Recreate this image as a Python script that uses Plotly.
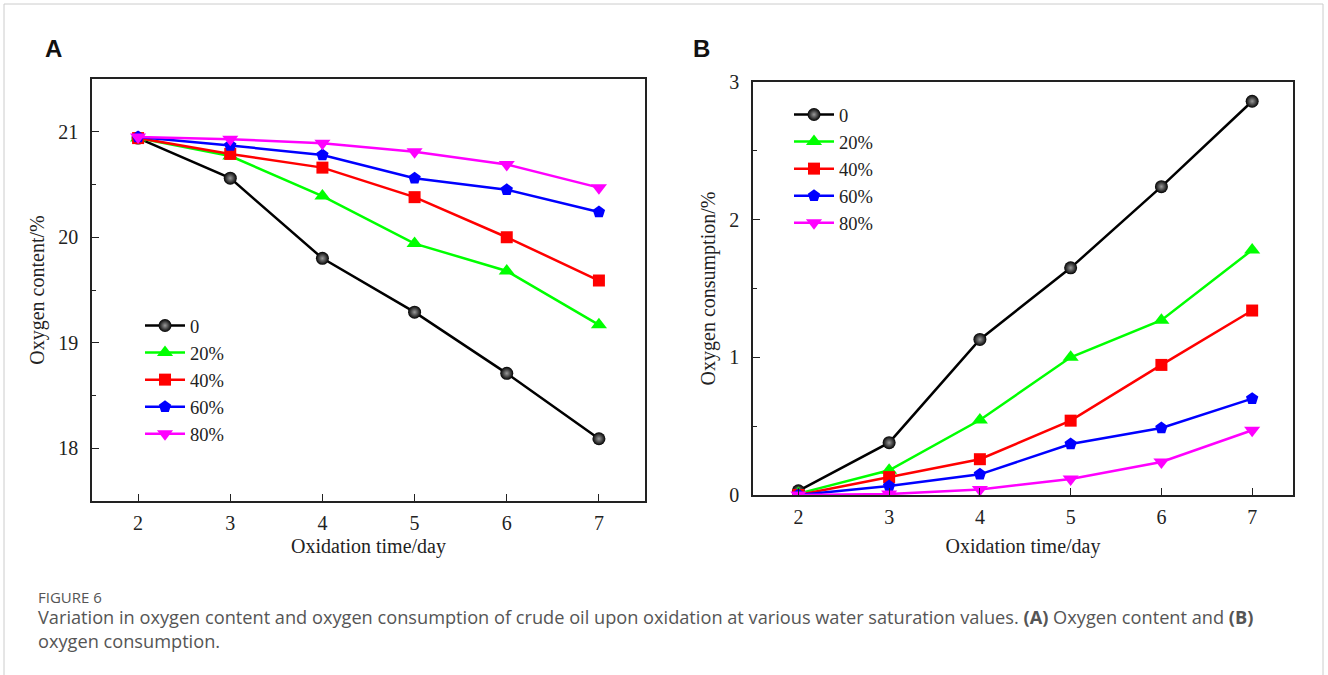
import plotly.graph_objects as go

W, H = 1328, 675

days = [2, 3, 4, 5, 6, 7]
series_names = ["0", "20%", "40%", "60%", "80%"]

content_0 = [20.94, 20.56, 19.80, 19.29, 18.71, 18.09]
content_20 = [20.94, 20.77, 20.39, 19.94, 19.68, 19.17]
content_40 = [20.94, 20.79, 20.66, 20.38, 20.00, 19.59]
content_60 = [20.95, 20.87, 20.78, 20.56, 20.45, 20.24]
content_80 = [20.95, 20.93, 20.89, 20.81, 20.69, 20.47]

consum_0 = [0.03, 0.38, 1.13, 1.65, 2.24, 2.86]
consum_20 = [0.01, 0.18, 0.545, 1.00, 1.27, 1.78]
consum_40 = [0.00, 0.13, 0.26, 0.54, 0.945, 1.34]
consum_60 = [0.00, 0.065, 0.15, 0.37, 0.487, 0.70]
consum_80 = [0.00, 0.007, 0.04, 0.116, 0.24, 0.47]

content = [content_0, content_20, content_40, content_60, content_80]
consum = [consum_0, consum_20, consum_40, consum_60, consum_80]

colors = ["#000000", "#00ff00", "#ff0000", "#0000ff", "#ff00ff"]
symbols = ["circle", "triangle-up", "square", "pentagon", "triangle-down"]
sizes = [13, 14, 12, 13, 14]

SERIF = "Liberation Serif"

fig = go.Figure()

def mk(i):
    m = dict(color=colors[i], symbol=symbols[i], size=sizes[i], line=dict(width=0))
    if i == 0:
        m["gradient"] = dict(type="radial", color="#9a9a9a")
    return m

for i, name in enumerate(series_names):
    fig.add_trace(go.Scatter(x=days, y=content[i], name=name, mode="lines+markers",
                             line=dict(color=colors[i], width=2.5), marker=mk(i),
                             xaxis="x", yaxis="y", legend="legend"))
for i, name in enumerate(series_names):
    fig.add_trace(go.Scatter(x=days, y=consum[i], name=name, mode="lines+markers",
                             line=dict(color=colors[i], width=2.5), marker=mk(i),
                             xaxis="x2", yaxis="y2", legend="legend2"))

def px_x(p):
    return p / W

def px_y(p):
    return 1 - p / H

axis_common = dict(showline=True, linecolor="#222", linewidth=1.5, mirror=True,
                   ticks="inside", ticklen=7, tickwidth=1.3, tickcolor="#222",
                   showgrid=False, zeroline=False, automargin=False,
                   tickfont=dict(family=SERIF, size=20, color="#222"))
title_font = dict(family=SERIF, size=20, color="#222")

fig.update_layout(
    width=W, height=H,
    margin=dict(l=0, r=0, t=0, b=0, autoexpand=False),
    paper_bgcolor="white", plot_bgcolor="white",
    showlegend=True,
    xaxis=dict(domain=[px_x(92), px_x(645)], range=[1.5, 7.5], anchor="y",
               dtick=1, ticklabelstandoff=3,
               title=dict(text="Oxidation time/day", font=title_font, standoff=6),
               **axis_common),
    yaxis=dict(domain=[px_y(501), px_y(79)], range=[17.5, 21.5], anchor="x",
               dtick=1, ticklabelstandoff=8,
               minor=dict(dtick=0.5, ticks="inside", ticklen=4, tickcolor="#222"),
               title=dict(text="Oxygen content/%", font=title_font, standoff=8),
               **axis_common),
    xaxis2=dict(domain=[px_x(753), px_x(1293)], range=[1.5, 7.45], anchor="y2",
                dtick=1, ticklabelstandoff=3,
                title=dict(text="Oxidation time/day", font=title_font, standoff=12),
                **axis_common),
    yaxis2=dict(domain=[px_y(495), px_y(82)], range=[0, 3], anchor="x2",
                dtick=1, ticklabelstandoff=8,
                minor=dict(dtick=0.5, ticks="inside", ticklen=4, tickcolor="#222"),
                title=dict(text="Oxygen consumption/%", font=title_font, standoff=8),
                **axis_common),
    legend=dict(x=px_x(140), y=px_y(307), xanchor="left", yanchor="top",
                bgcolor="rgba(0,0,0,0)", tracegroupgap=0, itemwidth=40,
                font=dict(family=SERIF, size=18.5, color="#222")),
    legend2=dict(x=px_x(789), y=px_y(96), xanchor="left", yanchor="top",
                 bgcolor="rgba(0,0,0,0)", tracegroupgap=0, itemwidth=40,
                 font=dict(family=SERIF, size=18.5, color="#222")),
    shapes=[dict(type="rect", xref="paper", yref="paper", x0=px_x(4), x1=px_x(1323),
                 y0=-0.05, y1=px_y(4), line=dict(color="#cccccc", width=1))],
    annotations=[
        dict(text="<b>A</b>", x=px_x(43), y=px_y(48), xref="paper", yref="paper",
             xanchor="left", yanchor="middle", showarrow=False,
             font=dict(family="Liberation Sans", size=24, color="#111")),
        dict(text="<b>B</b>", x=px_x(691), y=px_y(48), xref="paper", yref="paper",
             xanchor="left", yanchor="middle", showarrow=False,
             font=dict(family="Liberation Sans", size=24, color="#111")),
        dict(text="FIGURE 6", x=px_x(36), y=px_y(597), xref="paper", yref="paper",
             xanchor="left", yanchor="middle", showarrow=False,
             font=dict(family="Open Sans", size=15, color="#555")),
        dict(text="Variation in oxygen content and oxygen consumption of crude oil upon oxidation at various water saturation values. <b>(A)</b> Oxygen content and <b>(B)</b>",
             x=px_x(36), y=px_y(617), xref="paper", yref="paper",
             xanchor="left", yanchor="middle", showarrow=False,
             font=dict(family="Open Sans", size=18.2, color="#555")),
        dict(text="oxygen consumption.", x=px_x(36), y=px_y(641), xref="paper", yref="paper",
             xanchor="left", yanchor="middle", showarrow=False,
             font=dict(family="Open Sans", size=18.2, color="#555")),
    ],
)

fig.write_html("out.html")
